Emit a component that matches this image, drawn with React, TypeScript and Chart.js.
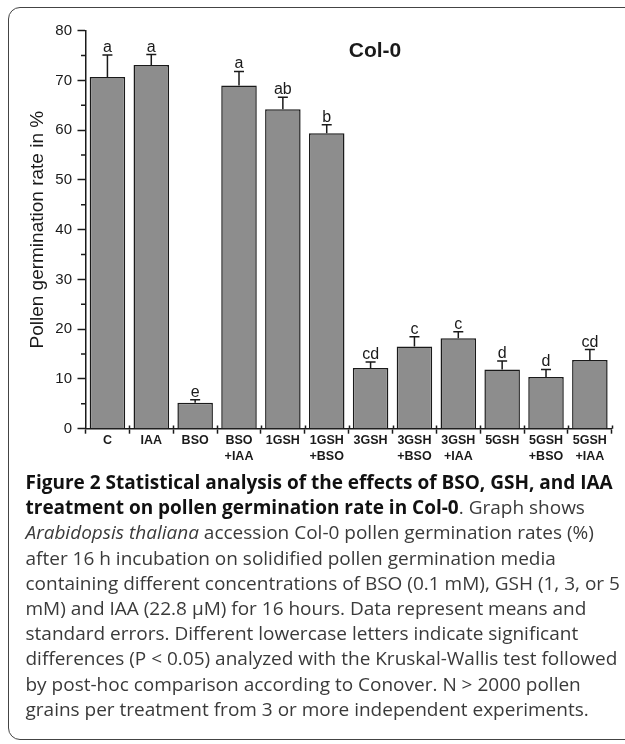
import React, { useEffect, useRef } from "react";
import { Chart, registerables } from "chart.js";

Chart.register(...registerables);

// ---- data ----
const categories: string[][] = [
  ["C"],
  ["IAA"],
  ["BSO"],
  ["BSO", "+IAA"],
  ["1GSH"],
  ["1GSH", "+BSO"],
  ["3GSH"],
  ["3GSH", "+BSO"],
  ["3GSH", "+IAA"],
  ["5GSH"],
  ["5GSH", "+BSO"],
  ["5GSH", "+IAA"],
];
const means = [70.7, 73.1, 5.2, 69.0, 64.2, 59.4, 12.2, 16.5, 18.2, 11.9, 10.4, 13.8];
const errors = [4.4, 2.1, 0.6, 2.8, 2.4, 1.7, 1.2, 2.0, 1.3, 1.7, 1.5, 2.1];
const letters = ["a", "a", "e", "a", "ab", "b", "cd", "c", "c", "d", "d", "cd"];
const yMin = 0;
const yMax = 80;
const yStep = 10;
const minorTicks = [5, 15, 25, 35, 45, 55, 65, 75];
const yTitle = "Pollen germination rate in %";
const panelTitle = "Col-0";

const CHART_FONT = "'Liberation Sans', Arial, Helvetica, sans-serif";
const INK = "#1a1a1a";

const overlayPlugin = {
  id: "overlay",
  afterDatasetsDraw(chart: any) {
    const { ctx, scales, chartArea } = chart;
    const x = scales.x;
    const y = scales.y;
    const meta = chart.getDatasetMeta(0);
    ctx.save();
    ctx.strokeStyle = INK;
    ctx.lineWidth = 1.5;
    meta.data.forEach((bar: any, i: number) => {
      const cx = bar.x;
      const top = y.getPixelForValue(means[i]);
      const et = y.getPixelForValue(means[i] + errors[i]);
      ctx.beginPath();
      ctx.moveTo(cx, top);
      ctx.lineTo(cx, et);
      ctx.moveTo(cx - 5, et);
      ctx.lineTo(cx + 5, et);
      ctx.stroke();
      ctx.fillStyle = INK;
      ctx.font = `16px ${CHART_FONT}`;
      ctx.textAlign = "center";
      ctx.textBaseline = "alphabetic";
      ctx.fillText(letters[i], cx, et - 3);
    });
    // minor ticks on y axis
    ctx.beginPath();
    minorTicks.forEach((v) => {
      const py = y.getPixelForValue(v);
      ctx.moveTo(y.right - 4.5, py);
      ctx.lineTo(y.right, py);
    });
    // inner half of the x tick marks (they cross the axis)
    const step = (x.right - x.left) / categories.length;
    for (let k = 1; k <= categories.length; k++) {
      const px = Math.round(x.left + k * step) + 0.5;
      ctx.moveTo(px, x.top);
      ctx.lineTo(px, x.top - 3.3);
    }
    ctx.stroke();
    // panel title
    ctx.fillStyle = INK;
    ctx.font = `bold 21px ${CHART_FONT}`;
    ctx.textAlign = "center";
    ctx.textBaseline = "middle";
    const tx = chartArea.left + (chartArea.right - chartArea.left) * 0.55;
    ctx.fillText(panelTitle, tx, y.getPixelForValue(75.8));
    ctx.restore();
  },
};

function BarChart() {
  const ref = useRef<HTMLCanvasElement | null>(null);
  useEffect(() => {
    if (!ref.current) return;
    const chart = new Chart(ref.current, {
      type: "bar",
      data: {
        labels: categories,
        datasets: [
          {
            data: means,
            backgroundColor: "#8d8d8d",
            borderColor: INK,
            borderWidth: 1.5,
            barPercentage: 0.81,
            categoryPercentage: 1,
          },
        ],
      },
      options: {
        animation: false,
        responsive: false,
        devicePixelRatio: 1,
        layout: { padding: { left: 0, top: 30.7, right: 13.2, bottom: 0 } },
        plugins: {
          legend: { display: false },
          tooltip: { enabled: false },
        },
        scales: {
          x: {
            offset: true,
            grid: {
              offset: true,
              drawOnChartArea: false,
              drawTicks: true,
              tickLength: 5,
              tickWidth: 1.5,
              tickColor: INK,
            },
            border: { display: true, color: INK, width: 1.5 },
            ticks: {
              color: INK,
              font: { family: CHART_FONT, size: 12.5, weight: "bold", lineHeight: "16px" },
              padding: -1,
              autoSkip: false,
              maxRotation: 0,
              minRotation: 0,
            },
            afterFit(scale: any) {
              scale.height = 51.3;
            },
          },
          y: {
            min: yMin,
            max: yMax,
            grid: {
              drawOnChartArea: false,
              drawTicks: true,
              tickLength: 8,
              tickWidth: 1.5,
              tickColor: INK,
            },
            border: { display: true, color: INK, width: 1.5 },
            ticks: {
              stepSize: yStep,
              color: INK,
              font: { family: CHART_FONT, size: 15 },
              padding: 5.5,
            },
            title: {
              display: true,
              text: yTitle,
              color: INK,
              font: { family: CHART_FONT, size: 19, lineHeight: 1.2 },
              padding: { top: 26.5, bottom: 0 },
            },
            afterFit(scale: any) {
              scale.width = 85.5;
            },
          },
        },
      },
      plugins: [overlayPlugin],
    });
    return () => chart.destroy();
  }, []);
  return (
    <canvas
      ref={ref}
      width={625}
      height={480}
      style={{ position: "absolute", left: 0, top: 0, width: 625, height: 480 }}
    />
  );
}

const CAPTION_FONT = "'Open Sans', 'Noto Sans', sans-serif";

export default function App() {
  const bold: React.CSSProperties = { fontWeight: 700, color: "#111" };
  return (
    <div
      style={{
        position: "absolute",
        left: 0,
        top: 0,
        width: 625,
        height: 744,
        overflow: "hidden",
        background: "#fff",
      }}
    >
      <div
        style={{
          position: "absolute",
          left: 8,
          top: 7,
          width: 660,
          height: 733,
          border: "1.5px solid #444",
          borderRadius: 12,
          boxSizing: "border-box",
        }}
      />
      <BarChart />
      <div
        style={{
          position: "absolute",
          left: 25.5,
          top: 470,
          fontFamily: CAPTION_FONT,
          fontSize: 19,
          lineHeight: "25.2px",
          color: "#3a3a3a",
          whiteSpace: "nowrap",
        }}
      >
        <div style={bold}>Figure 2 Statistical analysis of the effects of BSO, GSH, and IAA</div>
        <div>
          <span style={bold}>treatment on pollen germination rate in Col-0</span>. Graph shows
        </div>
        <div>
          <i>Arabidopsis thaliana</i> accession Col-0 pollen germination rates (%)
        </div>
        <div>after 16 h incubation on solidified pollen germination media</div>
        <div>containing different concentrations of BSO (0.1 mM), GSH (1, 3, or 5</div>
        <div>mM) and IAA (22.8 μM) for 16 hours. Data represent means and</div>
        <div>standard errors. Different lowercase letters indicate significant</div>
        <div>differences (P &lt; 0.05) analyzed with the Kruskal-Wallis test followed</div>
        <div>by post-hoc comparison according to Conover. N &gt; 2000 pollen</div>
        <div>grains per treatment from 3 or more independent experiments.</div>
      </div>
    </div>
  );
}
